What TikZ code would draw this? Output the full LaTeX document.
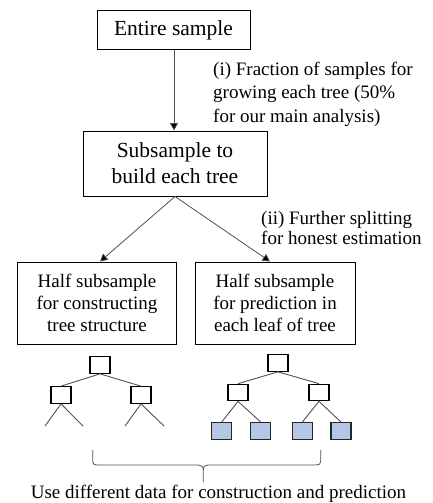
\documentclass[tikz,border=0pt]{standalone}
\usepackage{fontspec}
\setmainfont{Liberation Serif}
\usetikzlibrary{arrows.meta}
\definecolor{leafblue}{HTML}{B4C7E7}
\definecolor{linegray}{HTML}{505050}
\begin{document}
\begin{tikzpicture}[x=1pt,y=-1pt,
  bigbox/.style={draw=black, line width=1pt, inner sep=0pt, align=center,
    font=\fontsize{21.5}{26}\selectfont},
  halfbox/.style={draw=black, line width=1pt, inner sep=0pt, align=center,
    minimum width=159pt, minimum height=82pt,
    font=\fontsize{19}{22}\selectfont},
  lbl/.style={inner sep=0pt, align=left, anchor=north west},
  conn/.style={draw=linegray, line width=0.8pt, -{Triangle[length=7.5pt,width=8pt,fill=black]}},
  tbox/.style={draw=black, line width=1.2pt, inner sep=0pt, minimum width=20pt, minimum height=16.5pt},
  leafbox/.style={tbox, fill=leafblue, line width=1.4pt, draw=black!85},
  tedge/.style={draw=linegray, line width=0.9pt},
]
\useasboundingbox (0,0) rectangle (433,503);

% main boxes
\node[bigbox, minimum width=153pt, minimum height=39pt] (b1) at (173.5,30.5) {Entire sample};
\node[bigbox, minimum width=184pt, minimum height=65pt] (b2) at (175,163.5) {Subsample to\\build each tree};
\node[halfbox] (b3) at (97,303) {Half subsample\\for constructing\\tree structure};
\node[halfbox, minimum width=160pt] (b4) at (275,303) {Half subsample\\for prediction in\\each leaf of tree};

% labels
\node[lbl, font=\fontsize{19}{23.3}\selectfont] (l1) at (213,62) {(i) Fraction of samples for\\growing each tree (50\%\\for our main analysis)};
\node[lbl, font=\fontsize{19}{20}\selectfont] (l2) at (261,211.5) {(ii) Further splitting\\for honest estimation};

% connectors
\draw[conn] ([xshift=0.5pt]b1.south) -- ([xshift=-1pt]b2.north);
\draw[conn] (b2.south) -- ([xshift=3pt]b3.north);
\draw[conn] (b2.south) -- ([xshift=-5pt]b4.north);

% tree 1
\node[tbox] (r1) at (100,365) {};
\node[tbox] (c1a) at (61,395) {};
\node[tbox] (c1b) at (141,395) {};
\coordinate (e1) at (45,426);
\coordinate (e2) at (83,426);
\coordinate (e3) at (125,426);
\coordinate (e4) at (164,426);
\draw[tedge] (r1.south) -- (c1a.north);
\draw[tedge] (r1.south) -- (c1b.north);
\draw[tedge] (c1a.south) -- (e1);
\draw[tedge] (c1a.south) -- (e2);
\draw[tedge] (c1b.south) -- (e3);
\draw[tedge] (c1b.south) -- (e4);

% tree 2
\node[tbox] (r2) at (278,363) {};
\node[tbox] (c2a) at (238,392.5) {};
\node[tbox] (c2b) at (319,392.5) {};
\node[leafbox] (f1) at (221.7,431) {};
\node[leafbox] (f2) at (260.7,431) {};
\node[leafbox] (f3) at (302.3,431) {};
\node[leafbox] (f4) at (341,431) {};
\draw[tedge] (r2.south) -- (c2a.north);
\draw[tedge] (r2.south) -- (c2b.north);
\draw[tedge] (c2a.south) -- (f1.north);
\draw[tedge] (c2a.south) -- (f2.north);
\draw[tedge] (c2b.south) -- (f3.north);
\draw[tedge] (c2b.south) -- (f4.north);

% brace
\draw[linegray, line width=0.8pt]
  (92.7,450) -- (92.7,461) .. controls (92.7,464) and (94,465) .. (97,465)
  -- (198.5,465) .. controls (201.5,465) and (203.3,466.5) .. (203.3,470) -- (203.3,482);
\draw[linegray, line width=0.8pt]
  (203.3,470) .. controls (203.3,466.5) and (205.1,465) .. (208.1,465)
  -- (316.4,465) .. controls (319.4,465) and (320.7,464) .. (320.7,461) -- (320.7,450);

% bottom text
\node[inner sep=0pt, font=\fontsize{19}{22}\selectfont] (bt) at (218.5,493.5) {Use different data for construction and prediction};
\end{tikzpicture}
\end{document}
